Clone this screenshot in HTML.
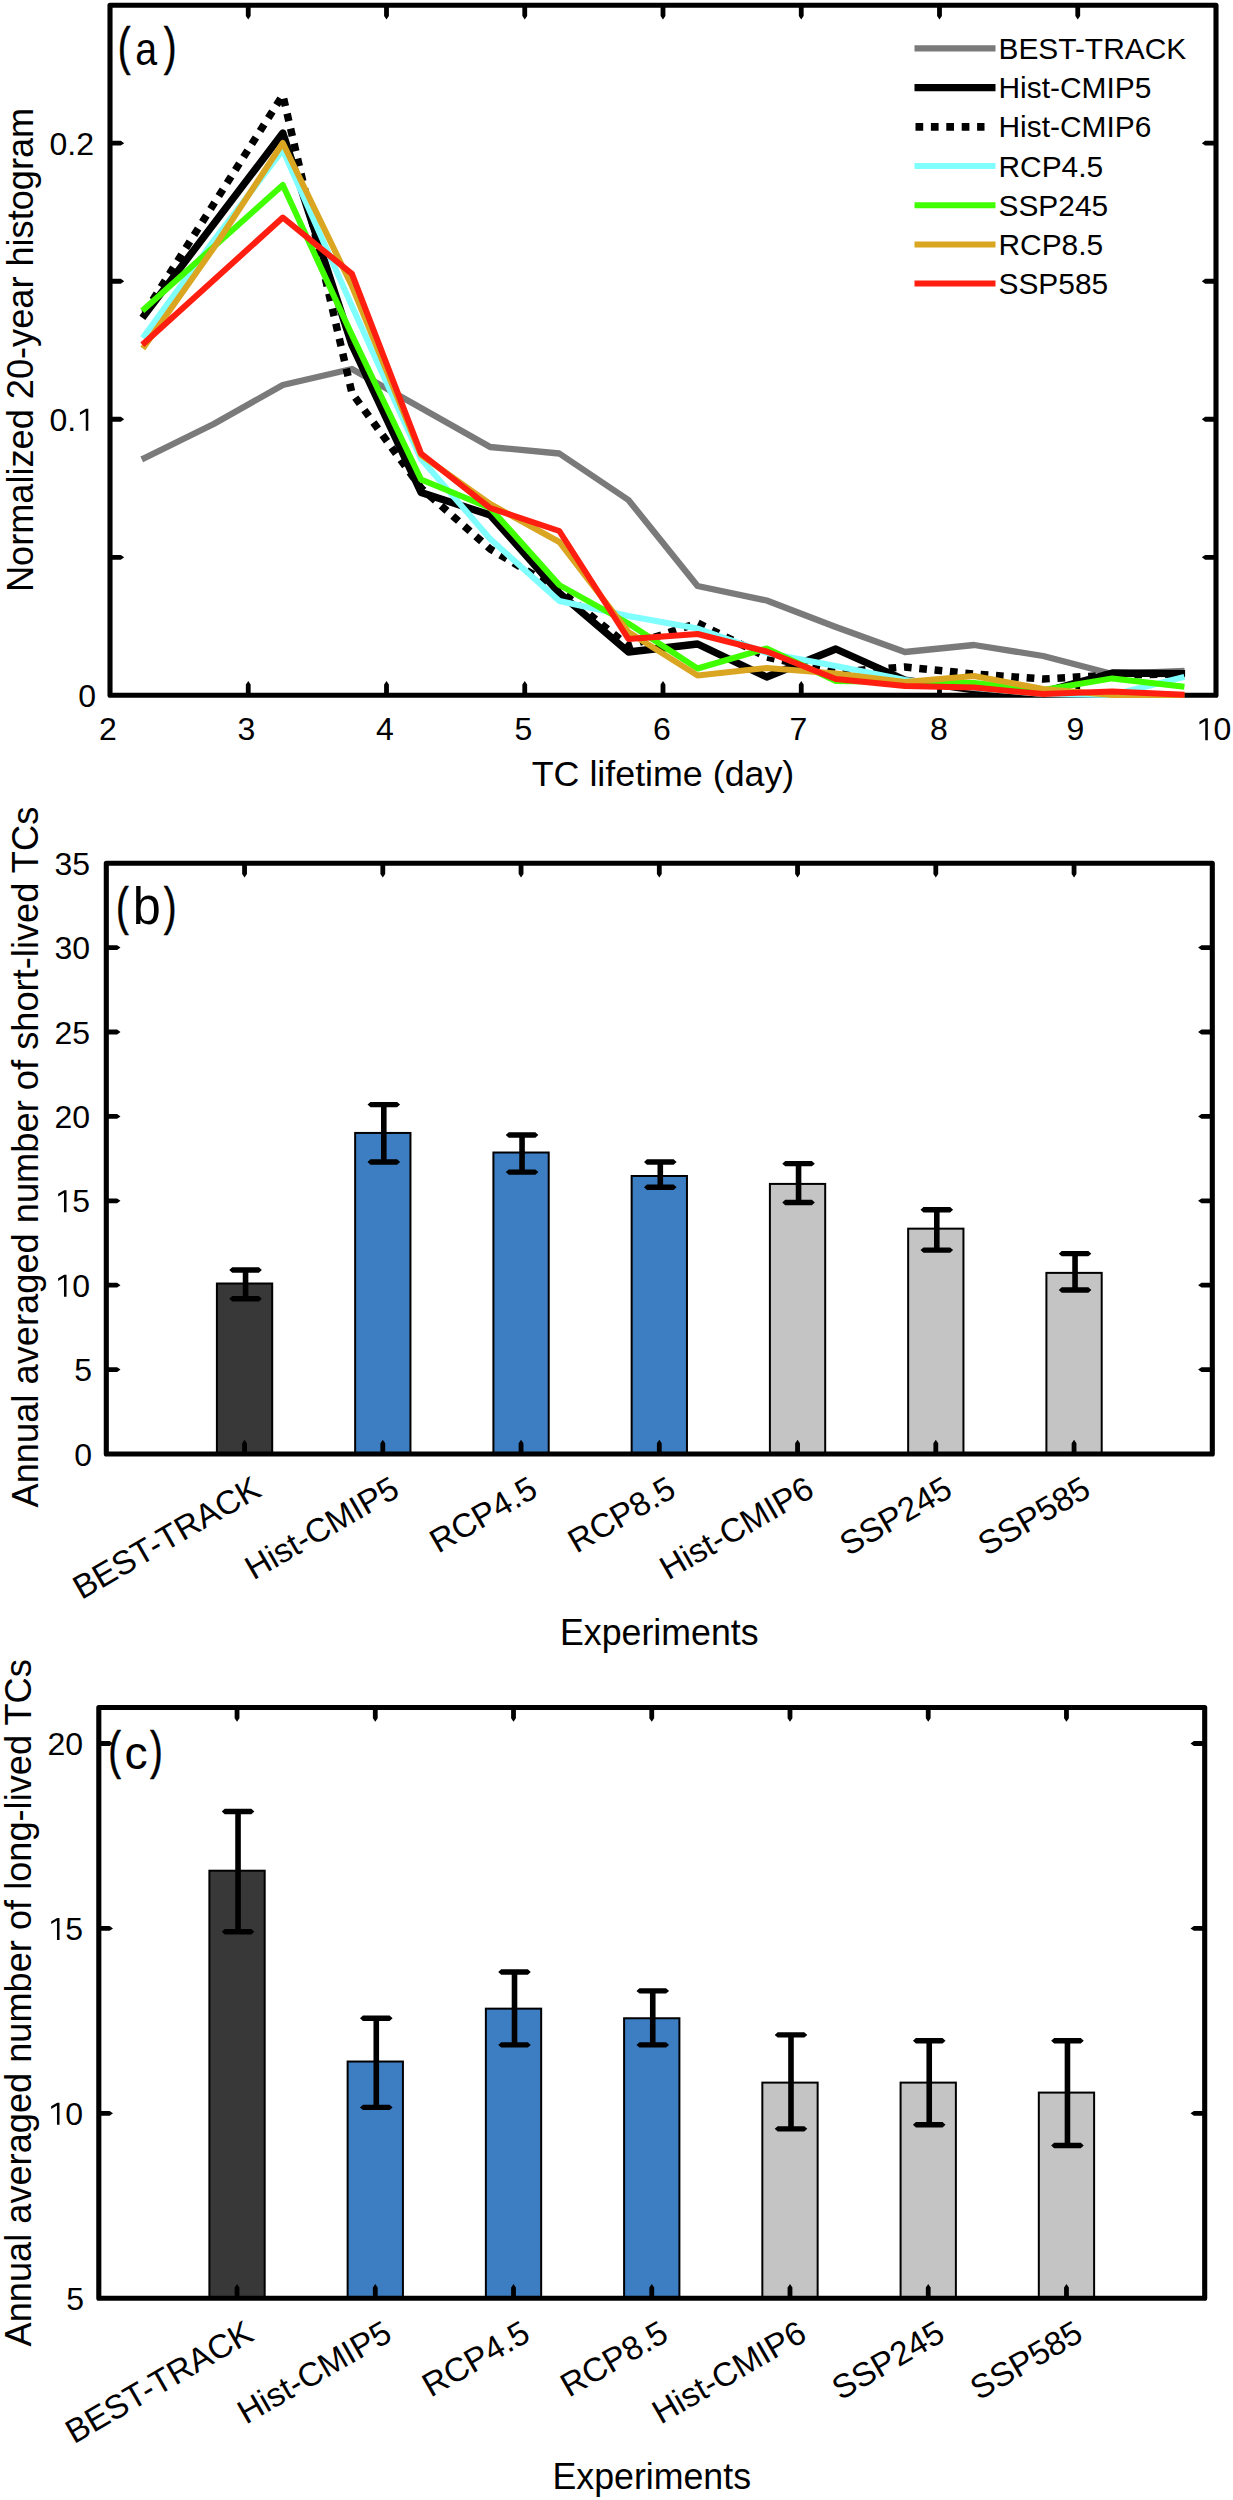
<!DOCTYPE html>
<html><head><meta charset="utf-8"><title>TC lifetime figure</title>
<style>
html,body{margin:0;padding:0;background:#fff;}
body{width:1233px;height:2500px;overflow:hidden;}
svg{display:block;}
</style></head>
<body>
<svg width="1233" height="2500" viewBox="0 0 1233 2500">
<rect x="0" y="0" width="1233" height="2500" fill="#fff"/>
<rect x="110" y="5.2" width="1106" height="690.1" fill="none" stroke="#000" stroke-width="5.1" stroke-linejoin="round"/>
<path d="M250.65 695.3L250.65 684.5L248.25 681.1L245.85 684.5L245.85 695.3ZM245.85 5.2L245.85 16L248.25 19.4L250.65 16L250.65 5.2ZM388.9 695.3L388.9 684.5L386.5 681.1L384.1 684.5L384.1 695.3ZM384.1 5.2L384.1 16L386.5 19.4L388.9 16L388.9 5.2ZM527.15 695.3L527.15 684.5L524.75 681.1L522.35 684.5L522.35 695.3ZM522.35 5.2L522.35 16L524.75 19.4L527.15 16L527.15 5.2ZM665.4 695.3L665.4 684.5L663 681.1L660.6 684.5L660.6 695.3ZM660.6 5.2L660.6 16L663 19.4L665.4 16L665.4 5.2ZM803.65 695.3L803.65 684.5L801.25 681.1L798.85 684.5L798.85 695.3ZM798.85 5.2L798.85 16L801.25 19.4L803.65 16L803.65 5.2ZM941.9 695.3L941.9 684.5L939.5 681.1L937.1 684.5L937.1 695.3ZM937.1 5.2L937.1 16L939.5 19.4L941.9 16L941.9 5.2ZM1080.15 695.3L1080.15 684.5L1077.75 681.1L1075.35 684.5L1075.35 695.3ZM1075.35 5.2L1075.35 16L1077.75 19.4L1080.15 16L1080.15 5.2ZM110 559.68L120.8 559.68L124.2 557.28L120.8 554.88L110 554.88ZM1216 554.88L1205.2 554.88L1201.8 557.28L1205.2 559.68L1216 559.68ZM110 421.66L120.8 421.66L124.2 419.26L120.8 416.86L110 416.86ZM1216 416.86L1205.2 416.86L1201.8 419.26L1205.2 421.66L1216 421.66ZM110 283.64L120.8 283.64L124.2 281.24L120.8 278.84L110 278.84ZM1216 278.84L1205.2 278.84L1201.8 281.24L1205.2 283.64L1216 283.64ZM110 145.62L120.8 145.62L124.2 143.22L120.8 140.82L110 140.82ZM1216 140.82L1205.2 140.82L1201.8 143.22L1205.2 145.62L1216 145.62Z" fill="#000"/>
<clipPath id="ca"><rect x="110.0" y="5.2" width="1106.0" height="690.0999999999999"/></clipPath>
<g fill="none" stroke-linejoin="round">
<polyline points="144.56,458 213.69,424 282.81,385 351.94,369 421.06,408 490.19,447 559.31,453.5 628.44,500 697.56,586 766.69,600.5 835.81,627 904.94,652 974.06,645 1043.19,656 1112.31,674 1181.44,671" stroke="#7a7a7a" stroke-width="6.3" stroke-linecap="square"/>
<polyline points="144.56,315 282.81,133 351.94,345 421.06,492.5 490.19,515 559.31,593 628.44,652 697.56,644 766.69,677 835.81,649 904.94,680 974.06,690 1043.19,692 1112.31,673 1181.44,673.5" stroke="#000000" stroke-width="7.3" stroke-linecap="square"/>
<polyline points="144.56,313 282.81,95 351.94,393 421.06,488 490.19,549 559.31,590 628.44,646 697.56,623 766.69,657 835.81,672 904.94,667 974.06,674 1043.19,679 1112.31,675 1181.44,674" stroke="#000000" stroke-width="7.5" stroke-dasharray="7.7 7.7"/>
<polyline points="144.56,335.5 213.69,240.5 282.81,150 351.94,306 421.06,459 490.19,539 559.31,601 628.44,616 697.56,628.5 766.69,653 835.81,666 904.94,680 974.06,688 1043.19,694 1112.31,695 1181.44,677.6" stroke="#80ffff" stroke-width="6.0" stroke-linecap="square"/>
<polyline points="144.56,308.7 282.81,185 351.94,335 421.06,479.5 490.19,508 559.31,585 628.44,623.5 697.56,668.5 766.69,648.4 835.81,681 904.94,682 974.06,683 1043.19,690 1112.31,678.4 1181.44,686.5" stroke="#40ff00" stroke-width="6.0" stroke-linecap="square"/>
<polyline points="144.56,346 213.69,248 282.81,143 351.94,286 421.06,455 490.19,504 559.31,542 628.44,632 697.56,675.5 766.69,668 835.81,673.5 904.94,682 974.06,676 1043.19,689 1112.31,695 1181.44,695" stroke="#daa520" stroke-width="6.0" stroke-linecap="square"/>
<polyline points="144.56,342.8 282.81,217.5 351.94,273.8 421.06,453.5 490.19,508 559.31,531 628.44,639 697.56,634 766.69,651.5 835.81,679 904.94,686 974.06,687.6 1043.19,694 1112.31,691.4 1181.44,694.6" stroke="#ff1e0f" stroke-width="6.0" stroke-linecap="square"/>
</g>
<g fill="none">
<path d="M914.5 48.4H995.5" stroke="#7a7a7a" stroke-width="6.3"/>
<path d="M914.5 87.6H995.5" stroke="#000000" stroke-width="7.2"/>
<path d="M915.5 126.8H984.5" stroke="#000" stroke-width="7.7" stroke-dasharray="7.7 7.7"/>
<path d="M914.5 166H995.5" stroke="#80ffff" stroke-width="6.0"/>
<path d="M914.5 205.2H995.5" stroke="#40ff00" stroke-width="6.0"/>
<path d="M914.5 244.4H995.5" stroke="#daa520" stroke-width="6.0"/>
<path d="M914.5 283.6H995.5" stroke="#ff1e0f" stroke-width="6.0"/>
</g>
<g font-family='"Liberation Sans", sans-serif' font-size="29.9" fill="#000">
<text x="998.5" y="58.9">BEST-TRACK</text>
<text x="998.5" y="98.1">Hist-CMIP5</text>
<text x="998.5" y="137.3">Hist-CMIP6</text>
<text x="998.5" y="176.5">RCP4.5</text>
<text x="998.5" y="215.7">SSP245</text>
<text x="998.5" y="254.9">RCP8.5</text>
<text x="998.5" y="294.1">SSP585</text>
</g>
<g font-family='"Liberation Sans", sans-serif' fill="#000">
<text x="99.1" y="740.3" font-size="32">2</text>
<text x="237.6" y="740.3" font-size="32">3</text>
<text x="376.1" y="740.3" font-size="32">4</text>
<text x="514.6" y="740.3" font-size="32">5</text>
<text x="653.1" y="740.3" font-size="32">6</text>
<text x="789.6" y="740.3" font-size="32">7</text>
<text x="930.1" y="740.3" font-size="32">8</text>
<text x="1066.6" y="740.3" font-size="32">9</text>
<path transform="translate(1195.7 740.3) scale(0.01562 -0.01562)" d="M612 0V1237L240 1010V1180L625 1409H775V0Z" fill="#000"/>
<text x="1213.5" y="740.3" font-size="32">0</text>
<text x="78.2" y="706.8" font-size="32">0</text>
<text x="49.52" y="430.76" font-size="32">0.</text>
<path transform="translate(76.2 430.76) scale(0.01562 -0.01562)" d="M612 0V1237L240 1010V1180L625 1409H775V0Z" fill="#000"/>
<text x="49.52" y="154.72" font-size="32">0.2</text>
</g>
<text x="663" y="786.2" font-family='"Liberation Sans", sans-serif' font-size="35.5" text-anchor="middle" textLength="262.5" lengthAdjust="spacingAndGlyphs">TC lifetime (day)</text>
<text transform="translate(32.8 349.9) rotate(-90)" font-family='"Liberation Sans", sans-serif' font-size="36" text-anchor="middle" textLength="484.2" lengthAdjust="spacingAndGlyphs">Normalized 20-year histogram</text>
<g font-family='"Liberation Sans", sans-serif' fill="#000">
<g stroke="#000" stroke-width="0.5">
<text transform="translate(117.72 64.1) scale(0.750 1)" font-size="51.2">(</text>
<text transform="translate(163.67 64.1) scale(0.750 1)" font-size="51.2">)</text>
</g>
<text transform="translate(135.15 64.9) scale(0.858 1)" font-size="45.8">a</text>
</g>
<clipPath id="cb"><rect x="106.3" y="863.2" width="1106.0" height="590.8"/></clipPath>
<g clip-path="url(#cb)">
<rect x="216.9" y="1283.51" width="55.3" height="170.49" fill="#383838" stroke="#000" stroke-width="2"/>
<rect x="355.15" y="1132.94" width="55.3" height="321.06" fill="#3d7dc1" stroke="#000" stroke-width="2"/>
<rect x="493.4" y="1152.52" width="55.3" height="301.48" fill="#3d7dc1" stroke="#000" stroke-width="2"/>
<rect x="631.65" y="1175.99" width="55.3" height="278.01" fill="#3d7dc1" stroke="#000" stroke-width="2"/>
<rect x="769.9" y="1183.92" width="55.3" height="270.08" fill="#c4c4c4" stroke="#000" stroke-width="2"/>
<rect x="908.15" y="1228.65" width="55.3" height="225.35" fill="#c4c4c4" stroke="#000" stroke-width="2"/>
<rect x="1046.4" y="1272.88" width="55.3" height="181.12" fill="#c4c4c4" stroke="#000" stroke-width="2"/>
<path d="M245.55 1298.7V1270.01M383.8 1161.98V1104.58M522.05 1172.1V1134.97M660.3 1187.3V1161.98M798.55 1202.49V1163.66M936.8 1250.09V1209.75M1075.05 1289.93V1253.63" stroke="#000" stroke-width="5.6" fill="none"/>
<path d="M229.25 1298.7L232.25 1296H258.85L261.85 1298.7L258.85 1301.4H232.25ZM229.25 1270.01L232.25 1267.31H258.85L261.85 1270.01L258.85 1272.71H232.25ZM367.5 1161.98L370.5 1159.28H397.1L400.1 1161.98L397.1 1164.68H370.5ZM367.5 1104.58L370.5 1101.88H397.1L400.1 1104.58L397.1 1107.28H370.5ZM505.75 1172.1L508.75 1169.4H535.35L538.35 1172.1L535.35 1174.8H508.75ZM505.75 1134.97L508.75 1132.27H535.35L538.35 1134.97L535.35 1137.67H508.75ZM644 1187.3L647 1184.6H673.6L676.6 1187.3L673.6 1190H647ZM644 1161.98L647 1159.28H673.6L676.6 1161.98L673.6 1164.68H647ZM782.25 1202.49L785.25 1199.79H811.85L814.85 1202.49L811.85 1205.19H785.25ZM782.25 1163.66L785.25 1160.96H811.85L814.85 1163.66L811.85 1166.36H785.25ZM920.5 1250.09L923.5 1247.39H950.1L953.1 1250.09L950.1 1252.79H923.5ZM920.5 1209.75L923.5 1207.05H950.1L953.1 1209.75L950.1 1212.45H923.5ZM1058.75 1289.93L1061.75 1287.23H1088.35L1091.35 1289.93L1088.35 1292.63H1061.75ZM1058.75 1253.63L1061.75 1250.93H1088.35L1091.35 1253.63L1088.35 1256.33H1061.75Z" fill="#000"/>
</g>
<rect x="106.3" y="863.2" width="1106" height="590.8" fill="none" stroke="#000" stroke-width="5.1" stroke-linejoin="round"/>
<path d="M246.95 1454L246.95 1443.2L244.55 1439.8L242.15 1443.2L242.15 1454ZM242.15 863.2L242.15 874L244.55 877.4L246.95 874L246.95 863.2ZM385.2 1454L385.2 1443.2L382.8 1439.8L380.4 1443.2L380.4 1454ZM380.4 863.2L380.4 874L382.8 877.4L385.2 874L385.2 863.2ZM523.45 1454L523.45 1443.2L521.05 1439.8L518.65 1443.2L518.65 1454ZM518.65 863.2L518.65 874L521.05 877.4L523.45 874L523.45 863.2ZM661.7 1454L661.7 1443.2L659.3 1439.8L656.9 1443.2L656.9 1454ZM656.9 863.2L656.9 874L659.3 877.4L661.7 874L661.7 863.2ZM799.95 1454L799.95 1443.2L797.55 1439.8L795.15 1443.2L795.15 1454ZM795.15 863.2L795.15 874L797.55 877.4L799.95 874L799.95 863.2ZM938.2 1454L938.2 1443.2L935.8 1439.8L933.4 1443.2L933.4 1454ZM933.4 863.2L933.4 874L935.8 877.4L938.2 874L938.2 863.2ZM1076.45 1454L1076.45 1443.2L1074.05 1439.8L1071.65 1443.2L1071.65 1454ZM1071.65 863.2L1071.65 874L1074.05 877.4L1076.45 874L1076.45 863.2ZM106.3 1372L117.1 1372L120.5 1369.6L117.1 1367.2L106.3 1367.2ZM1212.3 1367.2L1201.5 1367.2L1198.1 1369.6L1201.5 1372L1212.3 1372ZM106.3 1287.6L117.1 1287.6L120.5 1285.2L117.1 1282.8L106.3 1282.8ZM1212.3 1282.8L1201.5 1282.8L1198.1 1285.2L1201.5 1287.6L1212.3 1287.6ZM106.3 1203.2L117.1 1203.2L120.5 1200.8L117.1 1198.4L106.3 1198.4ZM1212.3 1198.4L1201.5 1198.4L1198.1 1200.8L1201.5 1203.2L1212.3 1203.2ZM106.3 1118.8L117.1 1118.8L120.5 1116.4L117.1 1114L106.3 1114ZM1212.3 1114L1201.5 1114L1198.1 1116.4L1201.5 1118.8L1212.3 1118.8ZM106.3 1034.4L117.1 1034.4L120.5 1032L117.1 1029.6L106.3 1029.6ZM1212.3 1029.6L1201.5 1029.6L1198.1 1032L1201.5 1034.4L1212.3 1034.4ZM106.3 950L117.1 950L120.5 947.6L117.1 945.2L106.3 945.2ZM1212.3 945.2L1201.5 945.2L1198.1 947.6L1201.5 950L1212.3 950Z" fill="#000"/>
<g font-family='"Liberation Sans", sans-serif' fill="#000">
<text x="74.2" y="1465.5" font-size="32">0</text>
<text x="74.2" y="1381.1" font-size="32">5</text>
<path transform="translate(54.41 1296.7) scale(0.01562 -0.01562)" d="M612 0V1237L240 1010V1180L625 1409H775V0Z" fill="#000"/>
<text x="72.2" y="1296.7" font-size="32">0</text>
<path transform="translate(54.41 1212.3) scale(0.01562 -0.01562)" d="M612 0V1237L240 1010V1180L625 1409H775V0Z" fill="#000"/>
<text x="72.2" y="1212.3" font-size="32">5</text>
<text x="54.41" y="1127.9" font-size="32">20</text>
<text x="54.41" y="1043.5" font-size="32">25</text>
<text x="54.41" y="959.1" font-size="32">30</text>
<text x="54.41" y="874.7" font-size="32">35</text>
</g>
<g font-family='"Liberation Sans", sans-serif' font-size="33.4" fill="#000">
<text transform="translate(263.05 1495.2) rotate(-30)" text-anchor="end">BEST-TRACK</text>
<text transform="translate(401.3 1495.2) rotate(-30)" text-anchor="end">Hist-CMIP5</text>
<text transform="translate(539.55 1495.2) rotate(-30)" text-anchor="end">RCP4.5</text>
<text transform="translate(677.8 1495.2) rotate(-30)" text-anchor="end">RCP8.5</text>
<text transform="translate(816.05 1495.2) rotate(-30)" text-anchor="end">Hist-CMIP6</text>
<text transform="translate(954.3 1495.2) rotate(-30)" text-anchor="end">SSP245</text>
<text transform="translate(1092.55 1495.2) rotate(-30)" text-anchor="end">SSP585</text>
</g>
<text x="659.3" y="1644.7" font-family='"Liberation Sans", sans-serif' font-size="36" text-anchor="middle" textLength="198.5" lengthAdjust="spacingAndGlyphs">Experiments</text>
<text transform="translate(38.1 1157.1) rotate(-90)" font-family='"Liberation Sans", sans-serif' font-size="36" text-anchor="middle" textLength="700.8" lengthAdjust="spacingAndGlyphs">Annual averaged number of short-lived TCs</text>
<g font-family='"Liberation Sans", sans-serif' fill="#000">
<g stroke="#000" stroke-width="0.5">
<text transform="translate(116.02 923.6) scale(0.750 1)" font-size="51.2">(</text>
<text transform="translate(163.67 923.6) scale(0.750 1)" font-size="51.2">)</text>
</g>
<text transform="translate(132.77 924.3) scale(0.976 1)" font-size="51.7">b</text>
</g>
<clipPath id="cc"><rect x="98.8" y="1707.5" width="1105.9" height="590.6999999999998"/></clipPath>
<g clip-path="url(#cc)">
<rect x="209.39" y="1870.71" width="55.3" height="427.49" fill="#383838" stroke="#000" stroke-width="2"/>
<rect x="347.63" y="2061.53" width="55.3" height="236.67" fill="#3d7dc1" stroke="#000" stroke-width="2"/>
<rect x="485.87" y="2008.65" width="55.3" height="289.55" fill="#3d7dc1" stroke="#000" stroke-width="2"/>
<rect x="624.1" y="2018.26" width="55.3" height="279.94" fill="#3d7dc1" stroke="#000" stroke-width="2"/>
<rect x="762.34" y="2082.61" width="55.3" height="215.59" fill="#c4c4c4" stroke="#000" stroke-width="2"/>
<rect x="900.58" y="2082.61" width="55.3" height="215.59" fill="#c4c4c4" stroke="#000" stroke-width="2"/>
<rect x="1038.82" y="2092.59" width="55.3" height="205.61" fill="#c4c4c4" stroke="#000" stroke-width="2"/>
<path d="M238.04 1931.73V1811.54M376.28 2107.38V2018.26M514.51 2044.89V1972.04M652.75 2044.89V1990.9M790.99 2128.83V2034.9M929.23 2124.76V2040.82M1067.46 2145.47V2040.82" stroke="#000" stroke-width="5.6" fill="none"/>
<path d="M221.74 1931.73L224.74 1929.03H251.34L254.34 1931.73L251.34 1934.43H224.74ZM221.74 1811.54L224.74 1808.84H251.34L254.34 1811.54L251.34 1814.24H224.74ZM359.98 2107.38L362.98 2104.68H389.58L392.58 2107.38L389.58 2110.08H362.98ZM359.98 2018.26L362.98 2015.56H389.58L392.58 2018.26L389.58 2020.96H362.98ZM498.21 2044.89L501.21 2042.19H527.81L530.81 2044.89L527.81 2047.59H501.21ZM498.21 1972.04L501.21 1969.34H527.81L530.81 1972.04L527.81 1974.74H501.21ZM636.45 2044.89L639.45 2042.19H666.05L669.05 2044.89L666.05 2047.59H639.45ZM636.45 1990.9L639.45 1988.2H666.05L669.05 1990.9L666.05 1993.6H639.45ZM774.69 2128.83L777.69 2126.13H804.29L807.29 2128.83L804.29 2131.53H777.69ZM774.69 2034.9L777.69 2032.2H804.29L807.29 2034.9L804.29 2037.6H777.69ZM912.93 2124.76L915.93 2122.06H942.52L945.52 2124.76L942.52 2127.46H915.93ZM912.93 2040.82L915.93 2038.12H942.52L945.52 2040.82L942.52 2043.52H915.93ZM1051.16 2145.47L1054.16 2142.77H1080.76L1083.76 2145.47L1080.76 2148.17H1054.16ZM1051.16 2040.82L1054.16 2038.12H1080.76L1083.76 2040.82L1080.76 2043.52H1054.16Z" fill="#000"/>
</g>
<rect x="98.8" y="1707.5" width="1105.9" height="590.7" fill="none" stroke="#000" stroke-width="5.1" stroke-linejoin="round"/>
<path d="M239.44 2298.2L239.44 2287.4L237.04 2284L234.64 2287.4L234.64 2298.2ZM234.64 1707.5L234.64 1718.3L237.04 1721.7L239.44 1718.3L239.44 1707.5ZM377.68 2298.2L377.68 2287.4L375.28 2284L372.88 2287.4L372.88 2298.2ZM372.88 1707.5L372.88 1718.3L375.28 1721.7L377.68 1718.3L377.68 1707.5ZM515.91 2298.2L515.91 2287.4L513.51 2284L511.11 2287.4L511.11 2298.2ZM511.11 1707.5L511.11 1718.3L513.51 1721.7L515.91 1718.3L515.91 1707.5ZM654.15 2298.2L654.15 2287.4L651.75 2284L649.35 2287.4L649.35 2298.2ZM649.35 1707.5L649.35 1718.3L651.75 1721.7L654.15 1718.3L654.15 1707.5ZM792.39 2298.2L792.39 2287.4L789.99 2284L787.59 2287.4L787.59 2298.2ZM787.59 1707.5L787.59 1718.3L789.99 1721.7L792.39 1718.3L792.39 1707.5ZM930.62 2298.2L930.62 2287.4L928.23 2284L925.83 2287.4L925.83 2298.2ZM925.83 1707.5L925.83 1718.3L928.23 1721.7L930.62 1718.3L930.62 1707.5ZM1068.86 2298.2L1068.86 2287.4L1066.46 2284L1064.06 2287.4L1064.06 2298.2ZM1064.06 1707.5L1064.06 1718.3L1066.46 1721.7L1068.86 1718.3L1068.86 1707.5ZM98.8 2115.7L109.6 2115.7L113 2113.3L109.6 2110.9L98.8 2110.9ZM1204.7 2110.9L1193.9 2110.9L1190.5 2113.3L1193.9 2115.7L1204.7 2115.7ZM98.8 1930.8L109.6 1930.8L113 1928.4L109.6 1926L98.8 1926ZM1204.7 1926L1193.9 1926L1190.5 1928.4L1193.9 1930.8L1204.7 1930.8ZM98.8 1745.9L109.6 1745.9L113 1743.5L109.6 1741.1L98.8 1741.1ZM1204.7 1741.1L1193.9 1741.1L1190.5 1743.5L1193.9 1745.9L1204.7 1745.9Z" fill="#000"/>
<g font-family='"Liberation Sans", sans-serif' fill="#000">
<text x="66.2" y="2309.7" font-size="32">5</text>
<path transform="translate(47.41 2124.8) scale(0.01562 -0.01562)" d="M612 0V1237L240 1010V1180L625 1409H775V0Z" fill="#000"/>
<text x="65.2" y="2124.8" font-size="32">0</text>
<path transform="translate(47.41 1939.9) scale(0.01562 -0.01562)" d="M612 0V1237L240 1010V1180L625 1409H775V0Z" fill="#000"/>
<text x="65.2" y="1939.9" font-size="32">5</text>
<text x="47.41" y="1755" font-size="32">20</text>
</g>
<g font-family='"Liberation Sans", sans-serif' font-size="33.4" fill="#000">
<text transform="translate(255.54 2339.4) rotate(-30)" text-anchor="end">BEST-TRACK</text>
<text transform="translate(393.78 2339.4) rotate(-30)" text-anchor="end">Hist-CMIP5</text>
<text transform="translate(532.01 2339.4) rotate(-30)" text-anchor="end">RCP4.5</text>
<text transform="translate(670.25 2339.4) rotate(-30)" text-anchor="end">RCP8.5</text>
<text transform="translate(808.49 2339.4) rotate(-30)" text-anchor="end">Hist-CMIP6</text>
<text transform="translate(946.73 2339.4) rotate(-30)" text-anchor="end">SSP245</text>
<text transform="translate(1084.96 2339.4) rotate(-30)" text-anchor="end">SSP585</text>
</g>
<text x="651.75" y="2488.9" font-family='"Liberation Sans", sans-serif' font-size="36" text-anchor="middle" textLength="198.5" lengthAdjust="spacingAndGlyphs">Experiments</text>
<text transform="translate(30.8 2002.85) rotate(-90)" font-family='"Liberation Sans", sans-serif' font-size="36" text-anchor="middle" textLength="687.2" lengthAdjust="spacingAndGlyphs">Annual averaged number of long-lived TCs</text>
<g font-family='"Liberation Sans", sans-serif' fill="#000">
<g stroke="#000" stroke-width="0.5">
<text transform="translate(108.32 1767.9) scale(0.750 1)" font-size="51.2">(</text>
<text transform="translate(149.97 1767.9) scale(0.750 1)" font-size="51.2">)</text>
</g>
<text transform="translate(124.56 1768.8) scale(1.020 1)" font-size="45.4">c</text>
</g>
</svg>
</body></html>
